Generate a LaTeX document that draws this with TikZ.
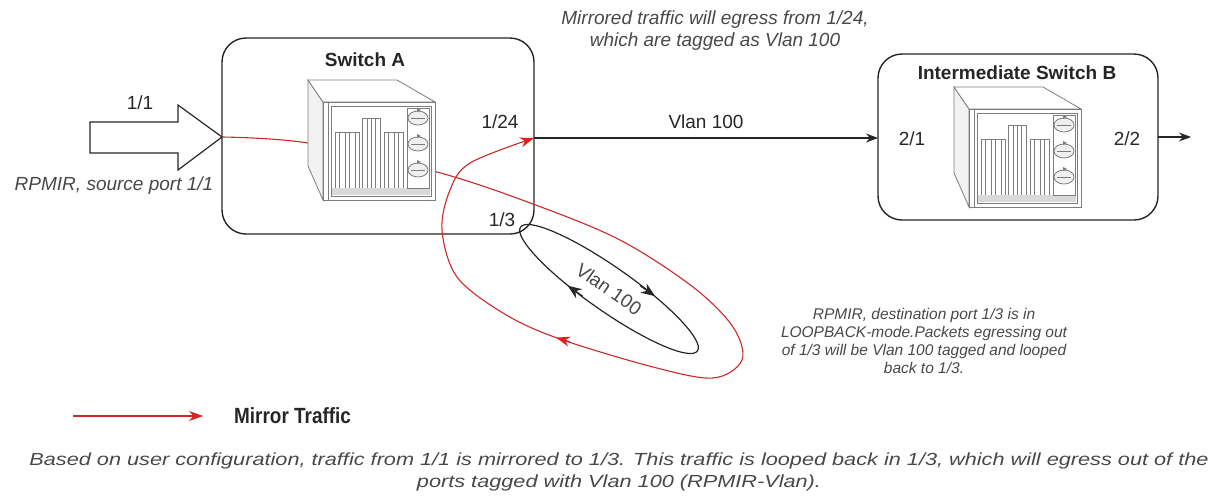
\documentclass[tikz,border=0pt]{standalone}
\usepackage{fontspec}
\usepackage{graphicx}
\setmainfont{Liberation Sans}
\usetikzlibrary{arrows.meta}

\definecolor{mirror}{RGB}{204,40,40}
\definecolor{mirrorhead}{RGB}{226,30,30}
\definecolor{ink}{RGB}{38,38,38}
\definecolor{note}{RGB}{72,72,72}
\definecolor{chassis}{RGB}{125,125,125}

% network switch pictogram, top-left corner at (#1,#2), about 128 x 120
\newcommand{\switchicon}[2]{%
  \begin{scope}[shift={(#1,#2)}, draw=chassis, line width=0.8pt]
    \filldraw[fill=gray!10] (1,0) -- (16,22) -- (16,120) -- (1,86) -- cycle;
    \filldraw[fill=white] (1,0) -- (90,0) -- (128,22) -- (16,22) -- cycle;
    \filldraw[fill=white] (16,22) rectangle (128,120);
    \draw (21,22) -- (21,120);
    \draw (24,26) rectangle (124,116);
    \fill[gray!30] (25,108) rectangle (123,115);
    \foreach \cx in {28,32,38,42,48,52,77,81,87,91,96}{\draw (\cx,108) -- (\cx,52);}
    \draw (28,52) -- (52,52) (77,52) -- (96,52);
    \draw (55,108) -- (55,38) -- (73,38) -- (73,108);
    \draw (60,38) -- (60,108) (64,38) -- (64,108) (68,38) -- (68,108);
    \draw (100,28) rectangle (122,108);
    \foreach \oy in {38,64,90}{%
      \filldraw[fill=gray!12] (111,\oy) ellipse [x radius=10, y radius=7];
      \draw (104,\oy) -- (118,\oy);
      \fill[chassis] (110,\oy-10) -- (114,\oy-8) -- (110,\oy-6) -- cycle;}
  \end{scope}}

\begin{document}
\begin{tikzpicture}[x=1pt, y=-1pt,
  every node/.style={inner sep=0pt, text=ink},
  lbl/.style={font=\fontsize{19}{22}\selectfont},
  title/.style={font=\fontsize{19}{22}\selectfont\bfseries},
  topnote/.style={font=\fontsize{19}{22}\selectfont\itshape, text=note, align=center},
  sidenote/.style={font=\fontsize{15.5}{18}\selectfont\itshape, text=note, align=center},
  footnote/.style={font=\fontsize{17.5}{22}\selectfont\itshape, text=note},
  box/.style={draw=ink, line width=1.4pt, rounded corners=24pt, fill=white},
  tip/.style={-{Stealth[length=12pt, width=9pt]}},
  bigtip/.style={-{Stealth[length=14pt, width=11pt]}},
  link/.style={draw=ink, line width=1.2pt, tip},
  redtip/.style={-{Stealth[length=14pt, width=10pt, color=mirrorhead]}},
  mirrorline/.style={draw=mirror, line width=1.1pt}]

\useasboundingbox (0,0) rectangle (1222,496);

% switch housings
\node[box, minimum width=312, minimum height=196] (swA) at (378,136) {};
\node[box, minimum width=280, minimum height=166] (swB) at (1018,137) {};

% ports
\coordinate (p124) at (534,138);
\coordinate (p21)  at (878,138);
\coordinate (p22)  at (1158,137);
\coordinate (egress) at (1191,137);
\coordinate (src)  at (222,137);

% incoming block arrow on port 1/1
\draw[draw=ink, line width=1.2pt, fill=white]
  (90,122) -- (178,122) -- (178,105) -- (src) -- (178,170) -- (178,153) -- (90,153) -- cycle;

% mirrored traffic: through switch A, out on 1/3, loops back and leaves on 1/24
\draw[mirrorline, redtip]
  plot[smooth, tension=0.55] coordinates {(src) (308,143) (437,172) (533,204) (620,240) (693,287)
    (733,327) (742,360) (713,378) (653,367) (557,338) (503,313) (457,277) (442,230) (450,190)
    (470,163) (p124)};
\draw[mirrorline, redtip, shorten <=3pt] (573,342.6) -- (556,337.6);

% loopback on port 1/3 (Vlan 100)
\begin{scope}[shift={(609,289)}, rotate=-35]
  \draw[ink, line width=1.2pt] (0,0) ellipse [x radius=108, y radius=22];
  \node[lbl, text=note, transform shape] (loopvlan) at (0,0) {Vlan 100};
\end{scope}
\draw[ink, line width=1.2pt, bigtip] (639.9,285.6) -- (655.0,296.1);
\draw[ink, line width=1.2pt, bigtip] (582.7,296.2) -- (567.7,285.7);

% switch pictograms
\switchicon{307}{80}
\switchicon{953}{87}

% trunk between the switches and egress of B
\draw[link] (p124) -- (p21);
\draw[link] (p22) -- (egress);

% labels
\node[title] (tA) at (365,60) {Switch A};
\node[title] (tB) at (1017,73) {Intermediate Switch B};
\node[lbl] (l11) at (140,103) {1/1};
\node[lbl] (l124) at (500,122) {1/24};
\node[lbl] (l13) at (502,220) {1/3};
\node[lbl] (lv) at (706,122) {Vlan 100};
\node[lbl] (l21) at (912,139) {2/1};
\node[lbl] (l22) at (1127,139) {2/2};

\node[topnote] (srcnote) at (114,186) {RPMIR, source port 1/1};
\node[topnote] (egnote) at (715,31) {Mirrored traffic will egress from 1/24,\\ which are tagged as Vlan 100};
\node[sidenote] (lbnote) at (924,341) {RPMIR, destination port 1/3 is in\\ LOOPBACK-mode.Packets egressing out\\ of 1/3 will be Vlan 100 tagged and looped\\ back to 1/3.};

% legend
\coordinate (lg1) at (73,416);
\coordinate (lg2) at (203,416);
\draw[mirrorline, redtip] (lg1) -- (lg2);
\node[font=\fontsize{22}{24}\selectfont\bfseries, anchor=west] (lgtext) at (234,416)
  {\scalebox{0.86}[1]{Mirror Traffic}};

% caption
\node[footnote] (caption) at (619,472)
  {\scalebox{1.24}[1]{\begin{tabular}{@{}c@{}}Based on user configuration, traffic from 1/1 is mirrored to 1/3. This traffic is looped back in 1/3, which will egress out of the\\ ports tagged with Vlan 100 (RPMIR-Vlan).\end{tabular}}};

\end{tikzpicture}
\end{document}
